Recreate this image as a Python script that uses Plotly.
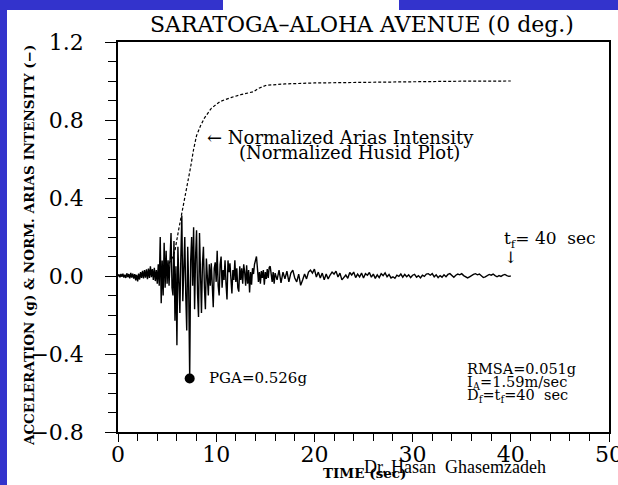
import numpy as np
import plotly.graph_objects as go

# ---------------- data ----------------
# acceleration record, part A: t = 0.0 .. 16.0 s, sampled every 0.1 s
acc_a_start = 0.0
acc_a_step = 0.1
acc_a = [
    0.000, 0.008, -0.006, 0.010, -0.004, 0.012, -0.008, 0.006, -0.010, 0.014,
    -0.006, 0.010, -0.012, 0.016, -0.008, 0.012, -0.014, 0.010, -0.022, 0.006,
    -0.028, 0.012, -0.018, 0.020, -0.010, 0.026, -0.012, 0.030, -0.008, 0.034,
    -0.016, 0.038, -0.010, 0.050, -0.006, 0.036, -0.020, 0.042, -0.026, 0.030,
    -0.040, 0.060, -0.050, 0.200, -0.140, 0.080, -0.100, 0.170, -0.060, 0.130,
    -0.040, 0.080, -0.050, 0.120, 0.220, -0.060, -0.100, 0.180, -0.230, 0.050,
    -0.355, 0.150, -0.060, -0.190, 0.100, 0.310, -0.130, 0.060, 0.200, -0.100,
    -0.280, 0.150, -0.060, -0.526, 0.080, 0.200, -0.050, 0.250, -0.170, 0.100,
    0.235, -0.090, -0.210, 0.220, 0.050, -0.190, 0.060, 0.150, -0.060, -0.170,
    0.090, 0.020, -0.100, 0.060, -0.050, 0.065, -0.070, -0.160, 0.040, 0.070,
    -0.030, 0.130, -0.050, -0.100, 0.060, 0.100, -0.060, 0.030, -0.020, 0.080,
    -0.040, -0.120, 0.080, 0.020, 0.065, -0.050, -0.090, 0.030, -0.020, 0.080,
    -0.030, 0.040, -0.060, -0.080, 0.050, -0.020, 0.040, -0.040, 0.060, 0.020,
    -0.050, 0.055, -0.040, 0.030, -0.085, 0.020, -0.045, 0.040, 0.010, 0.060,
    0.090, 0.100, 0.040, -0.030, 0.020, -0.040, 0.025, -0.010, 0.030, -0.045,
    0.020, -0.015, 0.035, -0.010, 0.045, 0.050, 0.010, -0.030, 0.020, -0.040,
    0.015,
]
# acceleration record, part B: t = 16.2 .. 40.0 s, sampled every 0.2 s
acc_b_start = 16.2
acc_b_step = 0.2
acc_b = [
    -0.020, 0.030, -0.035, 0.020, -0.015, 0.025, -0.030, 0.015, 0.030, -0.010,
    -0.030, 0.010, -0.048, -0.020, 0.010, -0.015, 0.020, 0.030, 0.015, 0.035,
    -0.005, 0.020, -0.010, 0.015, -0.020, 0.010, -0.015, 0.005, 0.020, 0.010,
    0.025, -0.005, 0.015, -0.020, -0.010, 0.005, -0.012, 0.018, 0.005, 0.020,
    -0.008, 0.010, -0.005, 0.015, -0.010, 0.012, 0.004, 0.018, -0.006, 0.010,
    -0.012, 0.006, -0.008, 0.012, 0.002, 0.016, -0.004, 0.008, -0.010, -0.004,
    -0.012, 0.004, -0.002, 0.010, -0.006, 0.008, -0.004, 0.006, -0.008, 0.004,
    0.008, -0.006, 0.002, -0.010, 0.004, -0.002, 0.010, 0.012, 0.004, 0.012,
    -0.004, 0.006, -0.008, 0.002, -0.006, 0.006, -0.004, 0.008, 0.012, 0.004,
    -0.006, 0.004, 0.010, 0.006, 0.012, 0.002, -0.006, -0.010, -0.004, 0.004,
    0.008, 0.012, 0.006, 0.010, 0.000, -0.008, -0.004, 0.004, 0.008, 0.004,
    0.010, 0.002, -0.004, 0.002, -0.002, 0.004, 0.008, 0.002, -0.002, 0.000,
]

# normalized Arias intensity (Husid plot)
arias_t = [0.0, 3.0, 4.2, 5.0, 5.5, 5.8, 6.15, 6.5, 6.8, 7.1, 7.4, 7.7, 8.0,
           8.4, 8.8, 9.5, 10.4, 11.5, 12.5, 13.8, 14.3, 15.1, 17.0, 20.0,
           25.0, 30.0, 35.0, 40.0]
arias_v = [0.0, 0.005, 0.015, 0.05, 0.09, 0.13, 0.23, 0.32, 0.40, 0.47, 0.56,
           0.65, 0.72, 0.77, 0.81, 0.86, 0.895, 0.915, 0.93, 0.945, 0.962,
           0.978, 0.985, 0.99, 0.994, 0.997, 0.999, 1.0]

# peak ground acceleration
pga_t = [7.3]
pga_v = [-0.526]

x_tickvals = [0, 10, 20, 30, 40, 50]
x_ticktext = ["0", "10", "20", "30", "40", "50"]
y_tickvals = [-0.8, -0.4, 0.0, 0.4, 0.8, 1.2]
y_ticktext = ["\u22120.8", "\u22120.4", "0.0", "0.4", "0.8", "1.2"]

# ---------------- figure ----------------
acc_t = np.concatenate([
    acc_a_start + acc_a_step * np.arange(len(acc_a)),
    acc_b_start + acc_b_step * np.arange(len(acc_b)),
])
acc_v = np.array(acc_a + acc_b)

SERIF = "DejaVu Serif"
BLUE = "#3333cc"

fig = go.Figure()
fig.add_trace(go.Scatter(x=acc_t, y=acc_v, mode="lines",
                         line=dict(color="black", width=1.4), hoverinfo="skip"))
fig.add_trace(go.Scatter(x=arias_t, y=arias_v, mode="lines",
                         line=dict(color="black", width=1.2, dash="3px,2px"),
                         hoverinfo="skip"))
fig.add_trace(go.Scatter(x=pga_t, y=pga_v, mode="markers",
                         marker=dict(color="black", size=10), hoverinfo="skip"))

ann = []
def add(text, x, y, size, xanchor="left", xref="x", yref="y", family=SERIF,
        textangle=0):
    ann.append(dict(text=text, x=x, y=y, xref=xref, yref=yref, showarrow=False,
                    xanchor=xanchor, yanchor="middle", textangle=textangle,
                    font=dict(family=family, size=size, color="black")))

add("SARATOGA\u2013ALOHA AVENUE (0 deg.)", 0.497, 1.046, 22, "center", "paper", "paper")
add("<b>ACCELERATION (g) &amp; NORM. ARIAS INTENSITY (\u2212)</b>", -0.181, 0.477,
    13.5, "center", "paper", "paper", textangle=-90)
add("<b>TIME (sec)</b>", 0.503, -0.105, 13.5, "center", "paper", "paper")
add("Dr. Hasan \u00a0Ghasemzadeh", 0.686, -0.09, 18, "center", "paper", "paper",
    family="Liberation Serif")
add("\u2190 Normalized Arias Intensity", 8.86, 0.708, 18)
add("(Normalized Husid Plot)", 23.6, 0.631, 18, "center")
add("t<sub>f</sub>= 40 \u00a0sec", 39.1, 0.185, 17)
add("\u2193", 40.0, 0.097, 16, "center")
add("PGA=0.526g", 9.06, -0.523, 15)
add("RMSA=0.051g", 35.34, -0.477, 14.5)
add("I<sub>A</sub>=1.59m/sec", 35.34, -0.549, 14.5)
add("D<sub>f</sub>=t<sub>f</sub>=40 \u00a0sec", 35.34, -0.615, 14.5)

# blue frame pieces of the slide (paper coordinates)
shapes = [
    dict(type="rect", xref="paper", yref="paper", x0=-0.25, x1=-0.22607,
         y0=-0.15, y1=1.12, fillcolor=BLUE, line=dict(width=0)),
    dict(type="rect", xref="paper", yref="paper", x0=-0.25, x1=0.21385,
         y0=1.08205, y1=1.12, fillcolor=BLUE, line=dict(width=0)),
    dict(type="rect", xref="paper", yref="paper", x0=0.5723, x1=1.03,
         y0=1.08205, y1=1.12, fillcolor=BLUE, line=dict(width=0)),
]

fig.update_layout(
    width=618, height=485,
    margin=dict(l=118, r=9, t=42, b=53, pad=0, autoexpand=False),
    paper_bgcolor="white", plot_bgcolor="white",
    showlegend=False,
    annotations=ann, shapes=shapes,
    xaxis=dict(range=[0, 50], tickmode="array", tickvals=x_tickvals,
               ticktext=x_ticktext, ticks="outside", ticklen=8, tickwidth=1.3,
               tickcolor="black", showline=True, linecolor="black",
               linewidth=1.5, mirror=True, showgrid=False, zeroline=False,
               automargin=False, ticklabelstandoff=-6,
               ticklabeloverflow="allow",
               tickfont=dict(family=SERIF, size=22, color="black"),
               minor=dict(tickmode="linear", tick0=0, dtick=2, ticks="outside",
                          ticklen=7, tickwidth=1.2, tickcolor="black")),
    yaxis=dict(range=[-0.8, 1.2], tickmode="array", tickvals=y_tickvals,
               ticktext=y_ticktext, ticks="outside", ticklen=11, tickwidth=1.3,
               tickcolor="black", showline=True, linecolor="black",
               linewidth=1.5, mirror=True, showgrid=False, zeroline=False,
               automargin=False, ticklabelstandoff=17,
               ticklabeloverflow="allow",
               tickfont=dict(family=SERIF, size=22, color="black"),
               minor=dict(tickmode="linear", tick0=-0.8, dtick=0.1,
                          ticks="outside", ticklen=8, tickwidth=1.2,
                          tickcolor="black")),
)

fig.write_html("out.html",
               config={"displayModeBar": False},
               post_script="document.body.style.margin='0px';"
                           "document.body.style.overflow='hidden';")
